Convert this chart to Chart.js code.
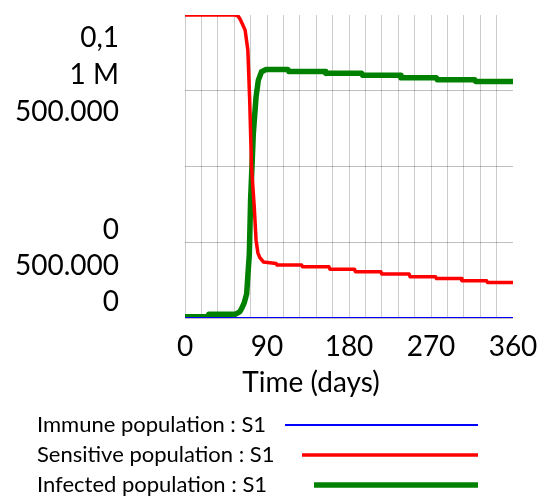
<!DOCTYPE html>
<html>
<head>
<meta charset="utf-8">
<script src="https://cdn.jsdelivr.net/npm/chart.js@4"></script>
<style>
  body { margin: 0; background: #fff; }
  canvas { display: block; }
</style>
</head>
<body>
<canvas id="chart" width="547" height="499"></canvas>
<script>
// Series data (days, people)
const immuneDays = [0, 360];
const immuneValues = [0, 0];

const sensitiveDays = [0, 55, 58, 60, 63, 66, 69, 71, 73, 76, 78, 80, 82, 86, 100, 101, 128, 129, 158, 159, 186, 187, 215, 216, 246, 247, 275, 276, 303, 304, 331, 332, 360];
const sensitiveValues = [1000000, 1000000, 997000, 989000, 970000, 950000, 884000, 720000, 500000, 367000, 257000, 215000, 200000, 185000, 180000, 175000, 175000, 169000, 169000, 161000, 161000, 153000, 153000, 145000, 145000, 136000, 136000, 130000, 130000, 123000, 123000, 117000, 117000];

const infectedDays = [0, 25, 26, 55, 60, 62, 65, 67.7, 69, 70.6, 72, 75, 78, 80.5, 84, 89, 113, 114, 153.7, 154.5, 194, 195, 236, 237, 276, 277, 318, 319, 360];
const infectedValues = [4000, 4000, 12000, 12000, 20000, 30000, 50000, 80000, 140000, 210000, 390000, 610000, 730000, 785000, 813000, 820000, 820000, 813500, 813500, 807500, 807500, 801000, 801000, 793000, 793000, 786000, 786000, 780500, 780500];

// Axis text
const xTickLabels = [0, 90, 180, 270, 360];
const xTitle = 'Time (days)';
const yTopLabels = ['0,1', '1 M', '500.000'];
const yBottomLabels = ['0', '500.000', '0'];

const seriesNames = ['Immune population : S1', 'Sensitive population : S1', 'Infected population : S1'];
const seriesColors = ['#0000ff', '#ff0000', '#008000'];
const seriesWidths = [2, 3.5, 5.5];
const legendLineStarts = [285, 302, 314];

function toPoints(days, values) {
    return days.map((d, i) => ({x: d, y: values[i]}));
}

const FONT = 'Lato, "Open Sans", sans-serif';

// Draws the stacked axis labels, time ticks, title and legend
const textPlugin = {
    id: 'vensimText',
    afterDraw(chart) {
        const ctx = chart.ctx;
        const area = chart.chartArea;
        const xScale = chart.scales.x;
        ctx.save();
        ctx.fillStyle = '#000';
        ctx.textBaseline = 'middle';

        // y labels
        ctx.font = '28px ' + FONT;
        ctx.textAlign = 'right';
        const labelRight = area.left - 66;
        yTopLabels.forEach((t, i) => {
            ctx.fillText(t, labelRight, area.top + 23 + i * 37);
        });
        yBottomLabels.forEach((t, i) => {
            ctx.fillText(t, labelRight, area.bottom - 16 - (yBottomLabels.length - 1 - i) * 36);
        });

        // x ticks
        ctx.textAlign = 'center';
        xTickLabels.forEach(v => {
            ctx.fillText(String(v), xScale.getPixelForValue(v), area.bottom + 29);
        });
        ctx.fillText(xTitle, area.left + 126, area.bottom + 65);

        // legend
        ctx.font = '22px ' + FONT;
        ctx.textAlign = 'left';
        seriesNames.forEach((name, i) => {
            const y = area.bottom + 107 + i * 30;
            ctx.fillStyle = '#000';
            ctx.fillText(name, 37, y);
            ctx.strokeStyle = seriesColors[i];
            ctx.lineWidth = seriesWidths[i];
            ctx.beginPath();
            ctx.moveTo(legendLineStarts[i], y);
            ctx.lineTo(478, y);
            ctx.stroke();
        });
        ctx.restore();
    }
};

const datasets = [
    toPoints(immuneDays, immuneValues),
    toPoints(sensitiveDays, sensitiveValues),
    toPoints(infectedDays, infectedValues)
].map((data, i) => ({
    label: seriesNames[i],
    data: data,
    borderColor: seriesColors[i],
    borderWidth: seriesWidths[i],
    borderJoinStyle: 'round',
    pointRadius: 0,
    tension: 0,
    fill: false
}));

const chart = new Chart(document.getElementById('chart').getContext('2d'), {
    type: 'line',
    data: { datasets: datasets },
    options: {
        responsive: false,
        animation: false,
        layout: { padding: { left: 185, right: 34, top: 15, bottom: 181 } },
        plugins: {
            legend: { display: false },
            tooltip: { enabled: false }
        },
        scales: {
            x: {
                type: 'linear',
                min: 0,
                max: 360,
                ticks: { display: false, stepSize: 18 },
                border: { display: false },
                grid: {
                    drawTicks: false,
                    color: ctx => ctx.tick && ctx.tick.value === 360 ? 'rgba(0,0,0,0)' : 'rgba(0,0,0,0.2)'
                }
            },
            y: {
                min: 0,
                max: 1000000,
                ticks: { display: false, stepSize: 250000 },
                border: { display: false },
                grid: {
                    drawTicks: false,
                    color: ctx => ctx.tick && ctx.tick.value === 1000000 ? 'rgba(0,0,0,0)' : 'rgba(0,0,0,0.25)'
                }
            }
        }
    },
    plugins: [textPlugin]
});
</script>
</body>
</html>
